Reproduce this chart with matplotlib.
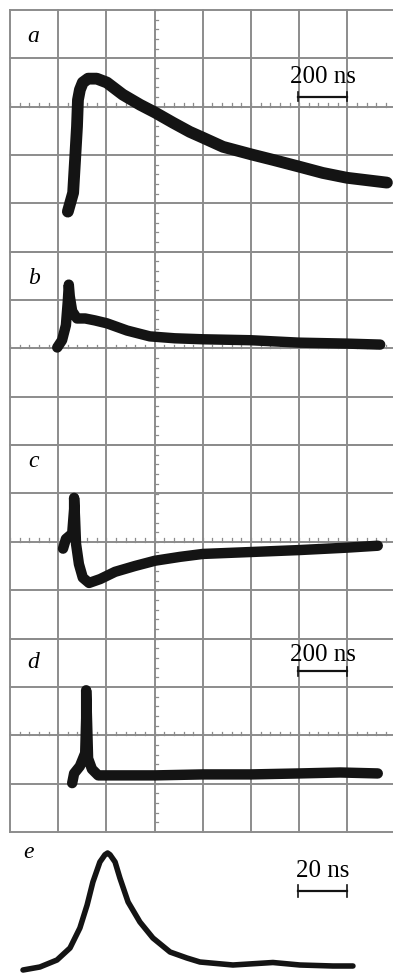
import numpy as np
import matplotlib.pyplot as plt

# oscilloscope traces, x in grid divisions (1 div = 200 ns), y in divisions from centre line
a_x = [1.20, 1.31, 1.35, 1.39, 1.41, 1.45, 1.51, 1.62, 1.80, 2.01, 2.34, 2.70, 3.01,
       3.38, 3.73, 4.00, 4.42, 5.02, 5.46, 6.00, 6.49, 6.99, 7.82]
a_y = [-2.17, -1.78, -1.10, -0.41, 0.14, 0.35, 0.50, 0.58, 0.58, 0.50, 0.25, 0.04, -0.12,
       -0.33, -0.52, -0.64, -0.83, -0.99, -1.10, -1.24, -1.37, -1.47, -1.57]

b_x = [0.98, 1.08, 1.16, 1.20, 1.22, 1.24, 1.29, 1.39, 1.56, 1.76, 2.01, 2.43, 2.90,
       3.42, 4.00, 5.00, 6.00, 6.99, 7.68]
b_y = [0.02, 0.17, 0.48, 0.99, 1.32, 1.08, 0.77, 0.62, 0.62, 0.58, 0.52, 0.37, 0.25,
       0.21, 0.19, 0.17, 0.12, 0.10, 0.08]

c_x = [1.10, 1.16, 1.29, 1.33, 1.33, 1.35, 1.37, 1.43, 1.51, 1.64, 1.87, 2.18, 2.59,
       3.01, 3.53, 4.00, 5.00, 6.00, 6.99, 7.63]
c_y = [-0.14, 0.06, 0.17, 0.68, 0.91, 0.48, -0.04, -0.46, -0.74, -0.85, -0.77, -0.62, -0.50,
       -0.39, -0.31, -0.25, -0.21, -0.17, -0.12, -0.08]

d_x = [1.29, 1.33, 1.45, 1.56, 1.58, 1.58, 1.60, 1.62, 1.70, 1.83, 2.07, 3.01, 4.00,
       5.00, 6.00, 6.85, 7.63]
d_y = [-0.99, -0.79, -0.64, -0.37, 0.35, 0.93, 0.25, -0.48, -0.70, -0.83, -0.83, -0.83, -0.81,
       -0.81, -0.79, -0.77, -0.79]

# fast trace e: time in ns, relative amplitude
e_t = [5.4, 12.4, 19.5, 24.9, 29.0, 32.0, 34.4, 37.3, 39.4, 40.5, 41.5, 43.6, 45.6,
       49.0, 53.9, 59.3, 66.4, 73.4, 78.8, 92.5, 109.1, 120.3, 134.0, 142.3]
e_v = [0.04, 0.064, 0.12, 0.216, 0.376, 0.56, 0.744, 0.904, 0.962, 0.976, 0.962, 0.904, 0.776,
       0.584, 0.424, 0.296, 0.184, 0.136, 0.104, 0.08, 0.1, 0.08, 0.072, 0.072]

labels = ["a", "b", "c", "d", "e"]
label_y = [1.34, 1.34, 1.55, 1.39]

W, H = 393, 975
CW, CH = 48.2, 48.35
GRID = "#8c8c8c"
INK = "#141414"
SERIF = ["Liberation Serif", "DejaVu Serif"]

fig = plt.figure(figsize=(W / 100, H / 100), dpi=100)


def px_axes(x0, y0, w, h):
    return fig.add_axes([x0 / W, 1 - (y0 + h) / H, w / W, h / H])


def scale_bar(ax, x0, x1, y, cap, text, ty):
    ax.plot([x0, x1], [y, y], color=INK, lw=1.6)
    ax.plot([x0, x0], [y - cap, y + cap], color=INK, lw=1.2)
    ax.plot([x1, x1], [y - cap, y + cap], color=INK, lw=1.2)
    ax.text((x0 + x1) / 2, ty, text, ha="center", va="baseline",
            fontsize=18, family=SERIF)


traces = [(a_x, a_y), (b_x, b_y), (c_x, c_y), (d_x, d_y)]
rows = [5, 4, 4, 4]
below = [3, 2, 2, 2]

top = 10
for i, (tx, ty) in enumerate(traces):
    ax = px_axes(10, top, 8 * CW, rows[i] * CH)
    lo, hi = -below[i], rows[i] - below[i]
    ax.set_xlim(0, 8)
    ax.set_ylim(lo, hi)
    ax.axis("off")

    for gx in range(9):
        ax.plot([gx, gx], [lo, hi], color=GRID, lw=1.4, clip_on=False, zorder=1)
    for gy in range(lo, hi + 1):
        ax.plot([0, 8], [gy, gy], color=GRID, lw=1.4, clip_on=False, zorder=1)

    # small ticks on the centre lines
    for mx in np.arange(0, 8.01, 0.2):
        ax.plot([mx, mx], [0, 0.07], color=GRID, lw=0.9, zorder=1)
    for my in np.arange(lo, hi + 0.01, 0.2):
        ax.plot([3, 3.08], [my, my], color=GRID, lw=0.9, zorder=1)

    lw = 8.5 if i == 0 else 7.5
    ax.plot(tx, ty, color=INK, lw=lw, solid_capstyle="round",
            solid_joinstyle="round", zorder=3)

    ax.text(0.49, label_y[i], labels[i], ha="center", va="baseline",
            fontsize=17, style="italic", family=SERIF)

    if i == 0:
        scale_bar(ax, 5.98, 6.99, 0.21, 0.1, "200 ns", 0.50)
    if i == 3:
        scale_bar(ax, 5.98, 6.99, 1.32, 0.1, "200 ns", 1.53)

    top += rows[i] * CH

# panel e
axe = px_axes(10, 845, 8 * CW, 130)
axe.set_xlim(0, 160)
axe.set_ylim(0, 1.04)
axe.axis("off")
axe.plot(e_t, e_v, color=INK, lw=4, solid_capstyle="round",
         solid_joinstyle="round", clip_on=False)
axe.text(7.5, 0.936, labels[4], ha="center", va="baseline",
         fontsize=17, style="italic", family=SERIF)
scale_bar(axe, 119.5, 139.8, 0.672, 0.045, "20 ns", 0.784)

fig.savefig("out.png", dpi=100)
